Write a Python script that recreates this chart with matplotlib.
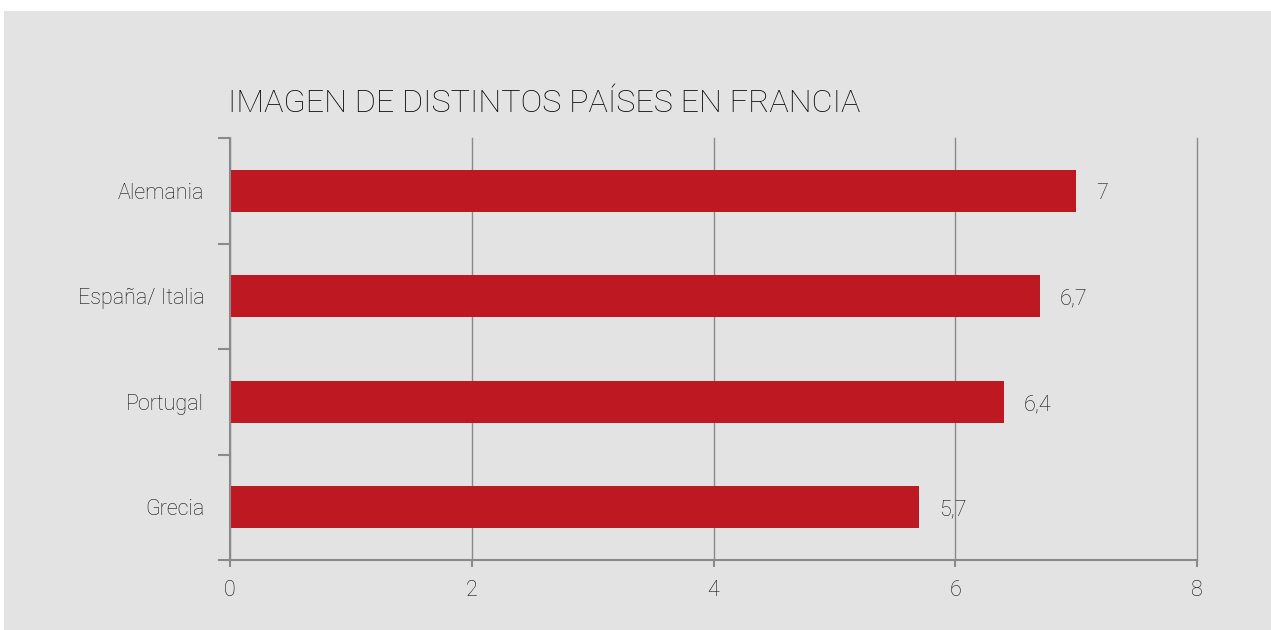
import matplotlib
matplotlib.use("Agg")
import matplotlib.pyplot as plt
from matplotlib.patches import Rectangle

categories = ["Alemania", "España/ Italia", "Portugal", "Grecia"]
values = [7, 6.7, 6.4, 5.7]
value_labels = ["7", "6,7", "6,4", "5,7"]
x_ticks = [0, 2, 4, 6, 8]

BG = "#e3e3e3"
BAR = "#be1823"
AXC = "#8a8a8a"
TXT = "#111111"

plt.rcParams["font.family"] = ["Roboto", "DejaVu Sans"]

fig = plt.figure(figsize=(12.71, 6.30), dpi=100)
fig.patch.set_facecolor("white")
fig.patches.append(Rectangle((4 / 1271, 0), 1, 1 - 11 / 630, transform=fig.transFigure,
                             facecolor=BG, edgecolor="none", zorder=-10))

ax = fig.add_axes([230 / 1271, 1 - 560 / 630, (1197 - 230) / 1271, (560 - 138) / 630])
ax.set_facecolor("none")

FS = 15.5
n = len(categories)
ypos = [n - 1 - i for i in range(n)]
ax.barh(ypos, values, height=0.4, color=BAR, zorder=3)
for y, v, lab in zip(ypos, values, value_labels):
    ax.annotate(lab, (v, y), xytext=(14.5, -2), textcoords="offset points",
                va="center", ha="left", fontsize=FS, color=TXT, fontweight="light")

ax.set_xlim(0, 8)
ax.set_ylim(-0.5, n - 0.5)
ax.set_xticks(x_ticks)
ax.set_xticklabels([str(t) for t in x_ticks], fontsize=FS, color=TXT, fontweight="light")
ax.set_yticks(ypos)
ax.set_yticklabels(categories, fontsize=FS, color=TXT, fontweight="light")
ax.tick_params(axis="y", which="major", length=0, pad=18.5)
ax.set_yticks([i - 0.5 for i in range(n + 1)], minor=True)
ax.tick_params(axis="y", which="minor", length=9, width=1.5, color=AXC)
ax.tick_params(axis="x", which="major", length=5, width=1.5, color=AXC, pad=9.5)

ax.grid(axis="x", color=AXC, linewidth=1, zorder=0)
for gl in ax.get_xgridlines():
    gl.set_clip_on(False)
ax.set_axisbelow(True)
for s in ["top", "right"]:
    ax.spines[s].set_visible(False)
for s in ["left", "bottom"]:
    ax.spines[s].set_color(AXC)
    ax.spines[s].set_linewidth(1.5)
    ax.spines[s].set_zorder(4)

fig.text(228 / 1271, 1 - 104 / 630, "IMAGEN DE DISTINTOS PAÍSES EN FRANCIA",
         fontsize=23.3, color="#0a0a0a", fontweight="light", va="center", ha="left")

fig.savefig("out.png", dpi=100)
